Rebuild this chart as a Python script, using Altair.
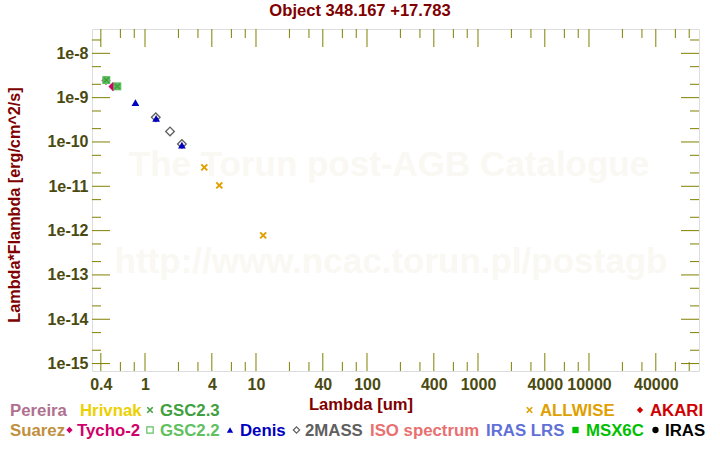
import altair as alt
import pandas as pd

# ---------------- data ----------------
title_text = "Object 348.167 +17.783"
x_title = "Lambda [um]"
y_title = "Lambda*Flambda [erg/cm^2/s]"
watermark_lines = ["The Torun post-AGB Catalogue", "http://www.ncac.torun.pl/postagb"]

tycho_x = [0.445, 0.515]
tycho_y = [2.45e-9, 1.78e-9]
gsc22_x = [0.448, 0.563]
gsc22_y = [2.49e-9, 1.80e-9]
gsc23_x = [0.448, 0.563]
gsc23_y = [2.49e-9, 1.80e-9]
denis_x = [0.82, 1.26, 2.15]
denis_y = [7.7e-10, 3.4e-10, 8.5e-11]
twomass_x = [1.25, 1.68, 2.15]
twomass_y = [3.6e-10, 1.73e-10, 9.0e-11]
allwise_x = [3.42, 4.67, 11.6]
allwise_y = [2.67e-11, 1.05e-11, 7.8e-13]

x_major = [0.4, 1, 4, 10, 40, 100, 400, 1000, 4000, 10000, 40000]
x_minor = [0.6, 0.8, 2, 3, 6, 8, 20, 30, 60, 80, 200, 300, 600, 800,
           2000, 3000, 6000, 8000, 20000, 30000, 60000, 80000]
y_major = [1e-8, 1e-9, 1e-10, 1e-11, 1e-12, 1e-13, 1e-14, 1e-15]
y_minor = [2e-8, 5e-9, 2e-9, 5e-10, 2e-10, 5e-11, 2e-11, 5e-12, 2e-12,
           5e-13, 2e-13, 5e-14, 2e-14, 5e-15, 2e-15]

legend_labels = ["Pereira", "Hrivnak", "GSC2.3", "ALLWISE", "AKARI",
                 "Suarez", "Tycho-2", "GSC2.2", "Denis", "2MASS",
                 "ISO spectrum", "IRAS LRS", "MSX6C", "IRAS"]
legend_colors = ["#b07090", "#ecd000", "#40a040", "#e0a000", "#d00000",
                 "#c09040", "#d0006a", "#60c060", "#0000c0", "#606060",
                 "#e87070", "#6070d8", "#00c000", "#000000"]

# ---------------- layout ----------------
W, H = 607, 342
LEFT, TOP = 92, 29
xdom = [0.333, 98000]
ydom = [6.8e-16, 3.54e-8]
OLIVE = "#808000"
LABEL = "#4a4a10"
DARKRED = "#800000"
FONT = "Liberation Sans"

# legend layout (chart pixel coords): text left x, row
legend_text_x = [10, 80, 160, 540, 650, 10, 77, 160, 240, 305, 370, 486, 586, 665]
legend_row = [0, 0, 0, 0, 0, 1, 1, 1, 1, 1, 1, 1, 1, 1]
row_base = [416, 436]
# symbols: (legend index, shape, filled, x center)
XSHAPE = "M-1,-1L1,1M-1,1L1,-1"
legend_symbols = [
    (2, XSHAPE, False, 150),
    (3, XSHAPE, False, 529.5),
    (4, "diamond", True, 640),
    (6, "diamond", True, 69.5),
    (7, "square", False, 150),
    (8, "triangle-up", True, 230),
    (9, "diamond", False, 296.5),
    (12, "square", True, 575.5),
    (13, "circle", True, 655.5),
]

xs = alt.Scale(type="log", domain=xdom, nice=False, zero=False)
ys = alt.Scale(type="log", domain=ydom, nice=False, zero=False)

xaxis = alt.Axis(values=x_major, orient="bottom", ticks=False, domain=False, grid=False,
                 title=None, labelFont=FONT, labelFontSize=16, labelFontWeight="bold",
                 labelColor=LABEL, labelPadding=5,
                 labelExpr="datum.value < 1 ? format(datum.value, '.1f') : format(datum.value, 'd')",
                 labelFlush=False, labelOverlap=False)
yaxis = alt.Axis(values=y_major, orient="left", ticks=False, domain=False, grid=False,
                 title=None, labelFont=FONT, labelFontSize=16, labelFontWeight="bold",
                 labelColor=LABEL, labelPadding=4,
                 labelExpr="'1e' + round(log(datum.value) / LN10)",
                 labelFlush=False, labelOverlap=False)


def X(field="x"):
    return alt.X(f"{field}:Q", scale=xs, axis=xaxis)


def Y(field="y"):
    return alt.Y(f"{field}:Q", scale=ys, axis=yaxis)


def series(xv, yv):
    return pd.DataFrame({"x": xv, "y": yv})


# watermark
wm = pd.DataFrame({"t": watermark_lines, "px": [389 - LEFT, 391 - LEFT], "py": [176 - TOP, 273 - TOP]})
watermark = alt.Chart(wm).mark_text(font=FONT, fontSize=35, fontWeight="bold", color="#faf8f3",
                                    align="center", baseline="alphabetic").encode(
    x=alt.X("px:Q", scale=None, axis=None), y=alt.Y("py:Q", scale=None, axis=None), text="t:N")

# tick marks (inward)
def tick_layer(vals, axis_ch, side, length):
    df = pd.DataFrame({"v": vals})
    base = alt.Chart(df).mark_rule(color=OLIVE, strokeWidth=1)
    if axis_ch == "x":
        y0 = 0 if side == "top" else H
        y1 = length if side == "top" else H - length
        return base.encode(x=X("v"), y=alt.value(y0), y2=alt.value(y1))
    else:
        x0 = 0 if side == "left" else W
        x1 = length if side == "left" else W - length
        return base.encode(y=Y("v"), x=alt.value(x0), x2=alt.value(x1))


ticks = [
    tick_layer(x_major, "x", "top", 18), tick_layer(x_minor, "x", "top", 9),
    tick_layer(x_major, "x", "bottom", 18), tick_layer(x_minor, "x", "bottom", 9),
    tick_layer(y_major, "y", "left", 18), tick_layer(y_minor, "y", "left", 9),
    tick_layer(y_major, "y", "right", 18), tick_layer(y_minor, "y", "right", 9),
]

# data layers
tycho = alt.Chart(series(tycho_x, tycho_y)).mark_point(
    shape="diamond", filled=True, color="#d0006a", size=85, opacity=1).encode(x=X(), y=Y())
gsc22 = alt.Chart(series(gsc22_x, gsc22_y)).mark_point(
    shape="square", filled=True, color="#60c060", size=64, opacity=1).encode(x=X(), y=Y())
gsc23 = alt.Chart(series(gsc23_x, gsc23_y)).mark_point(
    shape=XSHAPE, filled=False, color="#40a040", size=30, strokeWidth=1.5, opacity=1).encode(x=X(), y=Y())
twomass = alt.Chart(series(twomass_x, twomass_y)).mark_point(
    shape="diamond", filled=False, color="#606060", size=75, strokeWidth=1.3, opacity=1).encode(x=X(), y=Y())
denis = alt.Chart(series(denis_x, denis_y)).mark_point(
    shape="triangle-up", filled=True, color="#0000c0", size=60, opacity=1).encode(x=X(), y=Y())
allwise = alt.Chart(series(allwise_x, allwise_y)).mark_point(
    shape=XSHAPE, filled=False, color="#e0a000", size=36, strokeWidth=2, opacity=1).encode(x=X(), y=Y())

# titles
txt = pd.DataFrame({
    "t": [title_text, x_title],
    "px": [360 - LEFT, 361 - LEFT],
    "py": [16 - TOP, 410 - TOP],
})
titles = alt.Chart(txt).mark_text(font=FONT, fontSize=16.6, fontWeight="bold", color=DARKRED,
                                  align="center", baseline="alphabetic").encode(
    x=alt.X("px:Q", scale=None, axis=None), y=alt.Y("py:Q", scale=None, axis=None), text="t:N")
ytitle = alt.Chart(pd.DataFrame({"t": [y_title]})).mark_text(
    font=FONT, fontSize=16.2, fontWeight="bold", color=DARKRED, align="center",
    baseline="alphabetic", angle=270).encode(
    x=alt.value(20 - LEFT), y=alt.value(205 - TOP), text="t:N")

# legend
leg = pd.DataFrame({
    "t": legend_labels,
    "c": legend_colors,
    "px": [v - LEFT for v in legend_text_x],
    "py": [row_base[r] - TOP for r in legend_row],
})
legend_text = alt.Chart(leg).mark_text(font=FONT, fontSize=16.8, fontWeight="bold",
                                       align="left", baseline="alphabetic").encode(
    x=alt.X("px:Q", scale=None, axis=None), y=alt.Y("py:Q", scale=None, axis=None),
    text="t:N", color=alt.Color("c:N", scale=None))

sym_layers = []
for idx, shape, filled, cx in legend_symbols:
    r = legend_row[idx]
    sz = 30 if shape == XSHAPE else 40
    sym_layers.append(
        alt.Chart(pd.DataFrame({"k": [legend_labels[idx]]})).mark_point(
            shape=shape, filled=filled, color=legend_colors[idx], size=sz,
            strokeWidth=1.6 if shape == XSHAPE else 1.2, opacity=1).encode(
            x=alt.value(cx - LEFT), y=alt.value(row_base[r] - 6 - TOP))
    )

chart = alt.layer(
    watermark, *ticks, tycho, gsc22, gsc23, twomass, denis, allwise,
    titles, ytitle, legend_text, *sym_layers
).properties(
    width=W, height=H,
    autosize=alt.AutoSizeParams(type="none"),
    padding={"left": LEFT, "top": TOP, "right": 720 - LEFT - W, "bottom": 450 - TOP - H},
).configure_view(stroke=OLIVE, strokeWidth=1).configure(background="white")

chart.save("out.html", embed_options={"renderer": "svg", "actions": False})
